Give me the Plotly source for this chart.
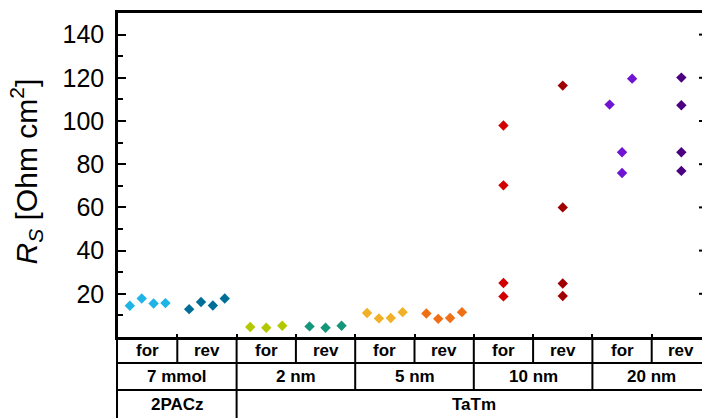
import plotly.graph_objects as go

# ---------------- data ----------------
row1_labels = ["for", "rev", "for", "rev", "for", "rev", "for", "rev", "for", "rev"]
conditions = ["7 mmol", "2 nm", "5 nm", "10 nm", "20 nm"]
materials = ["2PACz", "TaTm"]
material_spans = [(0, 1), (2, 9)]  # category index span per material

rs_7mmol_for = [14.5, 17.8, 15.5, 15.7]
rs_7mmol_rev = [12.9, 16.2, 14.6, 17.8]
rs_2nm_for = [4.6, 4.3, 5.2]
rs_2nm_rev = [4.9, 4.3, 5.2]
rs_5nm_for = [11.1, 8.6, 8.8, 11.5]
rs_5nm_rev = [10.9, 8.4, 8.8, 11.5]
rs_10nm_for = [97.9, 70.2, 25.0, 18.8]
rs_10nm_rev = [116.4, 60.0, 24.8, 19.0]
rs_20nm_for = [119.6, 107.6, 85.5, 75.9]
rs_20nm_rev = [120.1, 107.3, 85.5, 76.9]

# horizontal jitter of each point (in category widths)
jit_7mmol_for = [-0.3, -0.1, 0.1, 0.3]
jit_7mmol_rev = [-0.3, -0.1, 0.1, 0.3]
jit_2nm_for = [-0.27, 0.0, 0.27]
jit_2nm_rev = [-0.27, 0.0, 0.27]
jit_5nm_for = [-0.3, -0.1, 0.1, 0.3]
jit_5nm_rev = [-0.3, -0.1, 0.1, 0.3]
jit_10nm_for = [0, 0, 0, 0]
jit_10nm_rev = [0, 0, 0, 0]
jit_20nm_for = [0.17, -0.21, 0.0, 0.0]
jit_20nm_rev = [0, 0, 0, 0]

y_ticks = [20, 40, 60, 80, 100, 120, 140]
y_minor = [10, 30, 50, 70, 90, 110, 130]

colors = ["#1EB4E6", "#006E96", "#B4C800", "#14967A", "#F0B028",
          "#F06E14", "#D20000", "#A00000", "#6E14D2", "#4B0082"]

groups = [
    (rs_7mmol_for, jit_7mmol_for), (rs_7mmol_rev, jit_7mmol_rev),
    (rs_2nm_for, jit_2nm_for), (rs_2nm_rev, jit_2nm_rev),
    (rs_5nm_for, jit_5nm_for), (rs_5nm_rev, jit_5nm_rev),
    (rs_10nm_for, jit_10nm_for), (rs_10nm_rev, jit_10nm_rev),
    (rs_20nm_for, jit_20nm_for), (rs_20nm_rev, jit_20nm_rev),
]

# ---------------- layout geometry ----------------
W, H = 702, 418
ML, MT, MB = 118, 13, 81
plot_w = W - ML
plot_h = H - MT - MB
cat_px = 59.3
x_lo = -0.5
x_hi = x_lo + plot_w / cat_px

def xp(v):  # category coordinate -> paper fraction
    return (v - x_lo) / (x_hi - x_lo)

def yp(px):  # pixel row -> paper fraction
    return (H - MB - px) / plot_h

fig = go.Figure()
for i, (vals, jit) in enumerate(groups):
    fig.add_trace(go.Scatter(
        x=[i + j for j in jit], y=vals, mode="markers",
        marker=dict(symbol="diamond", size=8, color=colors[i], line=dict(width=0)),
        showlegend=False, cliponaxis=False))

shapes = []
LW = 2
# right-side tick stubs (axis itself lies just outside the view)
for v in y_ticks:
    shapes.append(dict(type="line", xref="paper", yref="y", x0=1 - 3 / plot_w, x1=1,
                       y0=v, y1=v, line=dict(color="black", width=2)))
# table horizontal lines
row_y = [H - MB, 363, 390]
for py in row_y[1:]:
    shapes.append(dict(type="line", xref="paper", yref="paper", x0=xp(-0.5) - 1 / plot_w, x1=1,
                       y0=yp(py), y1=yp(py), line=dict(color="black", width=LW)))
# left border of table
shapes.append(dict(type="line", xref="paper", yref="paper", x0=-1 / plot_w, x1=-1 / plot_w,
                   y0=0, y1=yp(H + 2), line=dict(color="black", width=LW)))
# row1 verticals
for k in range(1, 10):
    shapes.append(dict(type="line", xref="paper", yref="paper", x0=xp(k - 0.5), x1=xp(k - 0.5),
                       y0=0, y1=yp(363), line=dict(color="black", width=LW)))
# row2 verticals
for k in range(1, 5):
    shapes.append(dict(type="line", xref="paper", yref="paper", x0=xp(2 * k - 0.5), x1=xp(2 * k - 0.5),
                       y0=yp(363), y1=yp(390), line=dict(color="black", width=LW)))
# row3 verticals
for (a, b) in material_spans[:-1]:
    shapes.append(dict(type="line", xref="paper", yref="paper", x0=xp(b + 0.5), x1=xp(b + 0.5),
                       y0=yp(390), y1=yp(H + 2), line=dict(color="black", width=LW)))

annotations = []
tfont = dict(family="Liberation Sans, Arial, sans-serif", size=17, color="black")
for k, lab in enumerate(row1_labels):
    annotations.append(dict(text="<b>%s</b>" % lab, x=k, xref="x", y=yp(350), yref="paper",
                            showarrow=False, font=tfont, xanchor="center", yanchor="middle"))
for k, lab in enumerate(conditions):
    annotations.append(dict(text="<b>%s</b>" % lab, x=2 * k + 0.5, xref="x", y=yp(376.5), yref="paper",
                            showarrow=False, font=tfont, xanchor="center", yanchor="middle"))
for (a, b), lab in zip(material_spans, materials):
    annotations.append(dict(text="<b>%s</b>" % lab, x=(a + b) / 2, xref="x", y=yp(404.5), yref="paper",
                            showarrow=False, font=tfont, xanchor="center", yanchor="middle"))
# y-axis title
annotations.append(dict(text="<i>R</i><sub><i>S</i></sub> [Ohm cm<sup>2</sup>]",
                        x=-(ML - 27) / plot_w, xref="paper", y=yp(171.5), yref="paper",
                        textangle=-90, showarrow=False, xanchor="center", yanchor="middle",
                        font=dict(family="Liberation Sans, Arial, sans-serif", size=30, color="black")))

fig.update_layout(
    width=W, height=H,
    margin=dict(l=ML, r=0, t=MT, b=MB, pad=0),
    paper_bgcolor="white", plot_bgcolor="white",
    shapes=shapes, annotations=annotations,
    xaxis=dict(range=[x_lo, x_hi], showgrid=False, zeroline=False, showline=True, mirror=True,
               linecolor="black", linewidth=2.5, tickmode="array",
               tickvals=[k + 0.5 for k in range(9)], ticks="inside", ticklen=3, tickwidth=2,
               tickcolor="black", showticklabels=False),
    yaxis=dict(range=[0, 150], showgrid=False, zeroline=False, showline=True,
               linecolor="black", linewidth=2.5, tickmode="array", tickvals=y_ticks,
               ticks="inside", ticklen=8, tickwidth=2, tickcolor="black",
               ticklabelstandoff=6,
               tickfont=dict(family="Liberation Sans, Arial, sans-serif", size=25, color="black"),
               minor=dict(tickmode="array", tickvals=y_minor, ticks="inside", ticklen=5,
                          tickwidth=2, tickcolor="black")),
)

fig.write_html("out.html")
